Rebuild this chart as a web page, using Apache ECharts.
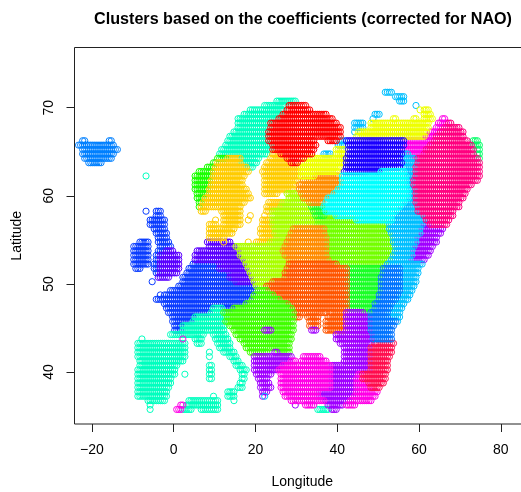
<!DOCTYPE html>
<html><head><meta charset="utf-8">
<style>html,body{margin:0;padding:0;background:#fff}#c{width:521px;height:492px}</style>
<script src="https://cdn.jsdelivr.net/npm/echarts@6/dist/echarts.min.js"></script>
</head><body><div id="c"></div>
<script>
// Each row: [latitude, first longitude, last longitude] of a run of grid cells (0.5 degree grid)
const xTicks = [-20, 0, 20, 40, 60, 80];
const yTicks = [40, 50, 60, 70];
const iceland = [[66.25,-22.5,-22],[66.25,-16,-15.5],[65.75,-23.25,-14.75],[65.25,-22.5,-14],[64.75,-22.3,-14.7],[64.25,-21.6,-15.2],[63.75,-20.7,-17.7]];
const blueWest = [[58.25,-6.75,-6.75],[58.25,-4.5,-3.25],[57.75,-4.5,-3.5],[57.25,-5.7,-2.2],[56.75,-5.7,-2.2],[56.25,-4.8,-2.5],[55.75,-4.4,-2],[55.25,-3.9,-1.7],[54.75,-3.7,-1.3],[54.75,-8.2,-6.2],[54.25,-3.5,-0.9],[54.25,-9.8,-6.2],[53.75,-3.7,-1],[53.75,-9.8,-6.2],[53.25,-4.3,-3.1],[53.25,-9.8,-6.2],[52.75,-9.8,-6.2],[52.75,-4.5,-3.75],[52.25,-9.6,-6.2],[52.25,-4.8,-4],[51.75,-9.3,-8.2],[51.75,-4.8,-4],[51.25,-4.5,-4],
[52.25,4.85,11.4],[51.75,3.6,11.4],[51.25,3.2,13.8],[50.75,2.4,13.8],[50.25,2,15.4],[50.25,-5.3,-5.3],[49.75,1.2,20.3],[49.25,-0.85,20.3],[48.75,-2.5,19.9],[48.75,-3.3,-3.3],[48.25,-4.5,19.1],[47.75,-2.5,17.9],[47.25,-1.7,14.6],[46.75,-1.3,10.5],[46.25,-0.5,4.9],[45.75,-0.5,4.9],[45.25,0,2],[44.75,0,1.6]];
const violetNorth = [[53.75,-1.9,-0.3],[53.25,-3.3,1.2],[52.75,-3.3,1.2],[52.25,-3.3,1.2],[51.75,-3.3,1.2],[51.25,-3.5,0.8],[50.75,-4,-1.3],
[54.75,8.1,13.8],[54.25,8.5,15.45],[53.75,5.67,16.3],[53.25,5.3,16.3],[52.75,5,17],[52.25,11.4,17.9],[51.75,11.4,18.3],[51.25,13.8,18.7],[50.75,13.8,19.1],[50.25,15.4,19.5]];
const aqua = [[70.75,25.2,29.5],[70.25,22.4,27],[69.75,18.7,26.5],[69.25,17.1,26.5],[68.75,15.5,25.6],[68.25,15.5,23.6],[67.75,15.5,23.6],[67.25,14.6,23.4],[66.75,13.8,23.2],[66.25,13.4,23.2],[65.75,12.6,24.4],[65.25,11.8,24.4],[64.75,11.4,22.8],[64.25,13,20.7],[63.75,16.3,20.3],[63.25,17.9,19.1],[62.25,-6.75,-6.75],
[47.25,9.75,11.8],[46.75,9.3,12.2],[46.25,5.3,13],[45.75,4.85,12.2],[45.25,2.4,12.2],[44.75,2,12.2],[44.25,-0.85,7.3],[44.25,9.75,12.6],[43.75,-7.8,-7.8],[43.75,5.3,6.9],[43.75,10.2,13.4],[43.25,5.67,6.5],[43.25,-8.6,2.8],[43.25,10.6,13.8],[42.75,-8.6,2.8],[42.75,11.4,13.8],[42.25,-8.6,2.8],[42.25,12.2,14.6],[42.25,8.9,8.9],[41.75,-8.6,2.8],[41.75,8.9,8.9],[41.75,13.8,15.45],[41.25,-8.2,2],[41.25,14.6,15.9],[40.75,-8.2,0.8],[40.75,15.45,16.7],[40.75,8.9,9.3],[40.25,-8.6,0.4],[40.25,16.3,17.5],[40.25,8.9,9.3],[39.75,-8.6,0],[39.75,16.7,17.1],[39.75,2.8,2.8],[39.75,8.9,9.3],[39.25,-9,-0.8],[39.25,16.7,17.1],[39.25,8.9,9.3],[38.75,-9,-0.8],[38.75,16.3,16.7],[38.25,-8.6,-1.2],[38.25,15.9,16.5],[37.75,-8.6,-1.6],[37.75,13,14.6],[37.25,-8.6,-2],[37.25,13.4,14.6],[37.25,9.75,9.75],[36.75,-6.2,-2.5],[36.75,14.6,14.6],[36.75,3.6,10.6],[36.25,-5.7,-5.7],[36.25,3.2,10.6],[35.75,-5.7,-5.7],[35.75,2.4,4.4],[35.75,6.5,10.6],[35.75,35.4,37.5]];
const norwayGreen = [[64.25,10.6,13],[63.75,9.7,11.8],[63.25,8.1,10.2],[62.75,6,9.7],[62.25,5.3,9.7],[61.75,5.3,9.3],[61.25,5.3,9.3],[60.75,5.3,8.9],[60.25,5.7,8.9],[59.75,5.7,7.7],[59.25,6.1,7.3],[58.75,6.1,6.1]];
const amber = [[64.25,13,16.3],[63.75,10.6,16.3],[63.25,10.2,17.9],[62.75,9.7,18.3],[62.25,9.7,17.1],[61.75,9.3,16.7],[61.25,9.3,16.7],[60.75,8.9,17.5],[60.25,8.9,18.3],[59.75,7.7,18.7],[59.25,7.3,17.1],[58.75,6.9,16.3],[58.25,6.9,7.7],[58.25,11.8,16.3],[57.75,12.2,16.3],[57.75,18.7,18.7],[57.25,10.2,10.2],[57.25,12.2,16.3],[57.25,18.3,18.3],[56.75,8.9,10.2],[56.75,12.2,16.3],[56.25,8.5,14.6],[55.75,8.5,14.2],[55.25,8.9,12.2],[54.75,12,12.2],
[64.75,24.4,26],[64.25,23.6,27.7],[63.75,22.8,28.5],[63.25,22,30.9],[62.75,21.6,30.9],[62.25,22,31.3],[61.75,22,30],[61.25,22,29.5],[60.75,22,29.3],[60.25,22.4,25.2],[59.25,23.2,26.9],[58.75,22.8,26.9],[58.25,22.8,24.4],[57.75,22.4,22.4],[57.25,21.6,24.4],[56.75,21.6,24.4],[56.25,21.2,24.8],[55.75,21.2,24.8],[55.25,21.6,24.8],[54.75,18.3,18.3],[54.75,20.3,23.6]];
const yellowGreen = [[60.25,27.7,31],[59.75,28.1,33.4],[59.25,26.9,33],[58.75,26.2,33.8],[58.25,24.4,34.2],[57.75,24,34.6],[57.25,24.4,35.4],[56.75,24.4,35.4],[56.25,24.8,28.5],[55.75,24.8,28],[55.25,25.2,28],[54.75,23.6,27.7],[54.25,15.45,27.3],[53.75,16.3,27],[53.25,16.3,27],[52.75,17,28],[52.25,17.9,28],[51.75,18.3,27.7],[51.25,18.7,27.7],[50.75,19.1,26.5],[50.25,19.5,24],[49.75,20.3,22]];
const lime = [[57.75,34.6,39.9],[57.25,35.4,44.8],[56.75,35.4,52.1],[56.25,36.6,52.9],[55.75,36.6,53.3],[55.25,37.4,53.75],[54.75,37.4,53.75],[54.25,37,54.2],[53.75,37,54.2],[53.25,37,53.75],[52.75,37.9,53.3],[52.25,39.9,52.1],[51.75,40.3,42.3]];
const green2 = [[58.75,33.8,36.6],[58.25,34.2,36.6],[57.75,34.6,36.9],[51.75,42.3,51.3],[51.25,42.3,51.3],[50.75,42.3,50.9],[50.25,42.3,50.9],[49.75,42.3,50.9],[49.25,42.3,50.9],[48.75,42.3,50],[48.25,42.3,50],[47.75,42.3,48.9],[47.25,42.3,48.9],[46.75,46,48.4]];
const orange = [[62.25,34.2,40.3],[61.75,31.7,40.7],[61.25,30.5,40.7],[60.75,30.5,40.3],[60.25,31,39],[59.75,31.7,37.9],[59.25,33,36.2],[56.25,29.3,36.6],[55.75,28.9,36.6],[55.25,28,37.4],[54.75,27.7,37.4],[54.25,27.3,37],[53.75,26.9,37],[53.25,27.3,37],[52.75,28,37.9]];
const orangeRed = [[52.25,28,39.9],[51.75,27.7,42.3],[51.25,27.3,42.3],[50.75,27.3,42.3],[50.25,24.4,42.3],[49.75,22.8,42.3],[49.25,23.2,42.3],[48.75,24.4,42.3],[48.25,25.6,42.3],[47.75,27.7,42.3],[47.25,28.5,42.3],[46.75,29,37.4],[46.75,38.3,42],[46.25,29.7,30.5],[46.25,32.6,35.4],[46.25,37.9,42],[45.75,33,35.4],[45.75,37.4,42],[45.25,33.4,35],[45.25,37.4,41.5],[44.75,37.4,41.5]];
const alpineGreen = [[49.25,20.7,22.8],[48.75,19.9,24.4],[48.25,19.1,25.6],[47.75,17.9,27.7],[47.25,14.6,28.5],[46.75,12.2,29],[46.25,13,29.3],[45.75,12.6,29.3],[45.25,13.8,29.3],[44.75,14.6,29],[44.25,15,28.8],[43.75,16.3,28.6],[43.25,17,28.4],[42.75,17.9,28],[42.25,18.7,22.8],[42.25,25.2,28]];
const violetSouth = [[44.75,22.4,23.6],[44.75,33.8,34.8],[42.25,24.8,25.2],[41.75,19.9,28.5],[41.25,19.5,28.5],[40.75,19.5,27],[40.25,19.9,25.2],[39.75,20.3,23.6],[39.25,20.7,22.8],[38.75,21.2,23.2],[38.25,21.2,23.6],[37.75,21.5,22.5],[37.25,21.9,22.4],
[46.75,42.3,46],[46.25,42.3,48.4],[45.75,42.3,48.4],[45.25,42.3,48.4],[44.75,42,48.4],[44.25,39.5,48.4],[43.75,39.9,48.4],[43.25,40.7,48.4],[42.75,41.5,48.4],[42.25,41.5,48.4],[41.75,41.5,48.4],[41.25,41.5,48],[40.75,38.3,48],[40.25,38.3,48],[39.75,38.3,46.4],[39.25,38.3,45.2],[38.75,38.3,44.8],[38.25,38.3,44.8],[37.75,35,44.8],[37.25,35,44],[36.75,36.6,43],[36.25,37.5,41],[36.25,29.7,29.7],[35.75,38.7,39.9]];
const magenta = [[41.75,31.75,35.8],[41.25,28.5,29.7],[41.25,31,37],[40.75,26.9,38.3],[40.25,25.5,38.3],[39.75,26,38.3],[39.25,26,38.3],[38.75,26,38.3],[38.25,26.4,38],[37.75,26.8,35],[37.25,27.3,35],[36.75,28.5,36.6],[36.25,32,34.2],[39.75,45,46.4],[39.25,44.8,47],[38.75,44.8,48.4],[38.25,44.8,49.7],[37.75,44.8,49.7],[37.25,44,49.2],[36.75,43,48.4],[36.25,42.3,44.3],[43.75,2.4,2.4],[36.25,1.6,2.4],[35.75,0.8,1.7],[68.75,65.6,66.4],[68.25,64.7,66.8],[67.75,64.3,66],[67.25,62.7,65.2],[66.75,61,64.3],[66.25,56.6,63.5],[65.75,56.6,62.7],[65.25,56.2,61.9],[64.75,57.4,61],[64.25,58.6,59.9]];
const pinkRed = [[43.25,49.3,53.75],[42.75,48.4,53.3],[42.25,48,53],[41.75,48,52.5],[41.25,48,52.1],[40.75,48,52.1],[40.25,48,52.1],[39.75,46.4,51.7],[39.25,46.4,51.7],[38.75,47.6,51.3],[38.25,48,50]];
const blueColumn = [[51.75,51.3,55.4],[51.25,51.3,55.4],[50.75,50.9,55.4],[50.25,50.9,55.4],[49.75,50.9,55.4],[49.25,50.9,55],[48.75,50,54.6],[48.25,50,54.2],[47.75,49.3,53],[47.25,49.3,52.5],[46.75,48.4,52.1],[46.25,48.4,52.1],[45.75,48.4,54],[45.25,48.4,53.7],[44.75,48.4,53.3],[44.25,48.9,53.3],[43.75,48.9,53.3]];
const sky = [[57.75,53.3,61],[57.25,53,61.9],[56.75,52.5,60.7],[56.25,52.9,60.3],[55.75,53.3,60.3],[55.25,53.75,59.4],[54.75,53.75,59],[54.25,54.2,58.6],[53.75,54.2,58.2],[53.25,53.75,58.2],[52.75,53.3,57.8],[52.25,52.1,60.7],[51.75,55.4,59.9],[51.25,55.4,59.9],[50.75,55.4,59.4],[50.25,55.4,59],[49.75,55.4,58.6],[49.25,55,58.2],[48.75,54.6,57.8],[48.25,54.2,57],[47.75,53,56.2],[47.25,52.5,55.8],[46.75,52.1,55.4],[46.25,52.1,55],[45.75,54,54.7],
[66.25,40.7,43.6],[65.75,40.3,41.6],[64.75,36.6,38.3],[64.75,55.7,57.4],[64.25,55.7,58.6],[63.75,55.7,59.4],[63.25,56.2,59.4],[62.75,56.2,59.4],[62.25,56.6,59],[61.75,56.6,58.6],[61.25,56.6,58.6],[60.75,57,58.6],[60.25,57,59],[59.75,57,59.4],[59.25,56.2,59.4],[58.75,55.4,59.9],[58.25,54.2,59.9],[71.75,51.7,53.4],[71.25,54.2,56.2],[70.75,55.4,56.2],[70.25,59.2,59.2],[69.25,49,50.1],[68.75,48.9,48.9],[68.25,44.4,46],[67.75,44.4,46],[67.25,44.4,44.4],[37.25,22.4,22.4]];
const yellow = [[69.75,60.3,60.3],[69.75,61,62.3],[69.25,61,62.7],[68.75,53.75,54],[68.75,58.6,59],[68.75,61,63],[68.25,48,62],[67.75,48,62.3],[67.25,45.2,61.9],[66.75,44.8,61.4],[65.25,39.9,41.5],[64.75,39.5,41.5],[64.25,32.2,41.5],[63.75,31,41.5],[63.25,31,40.7],[62.75,31,40.3],[62.25,31.3,34.2]];
const darkBlue = [[66.25,42.3,56.2],[65.75,42.7,56.2],[65.25,42.7,55.8],[64.75,42.7,55.8],[64.25,42.3,55.4],[63.75,42.3,55.8],[63.25,42,55.4],[62.75,41.5,50.5]];
const cyan = [[62.75,50.5,56.2],[62.25,41.1,56.6],[61.75,41.1,56.6],[61.25,41.1,56.6],[60.75,40.3,57],[60.25,39,57],[59.75,37.9,57],[59.25,37,56.2],[58.75,36.6,55.4],[58.25,37,54.2],[57.75,39.9,53.3],[57.25,44.8,53]];
const spring = [[66.25,73.3,74.1],[65.75,73.3,74.5],[65.25,74,74.5],[64.75,74,74.75],[64.25,74.5,74.75]];
const pink = [[68.25,67.2,67.6],[67.75,66,69.6],[67.25,65.2,70.5],[66.75,64.3,70.9],[66.25,63.5,71.7],[65.75,62.7,72.5],[65.25,61.9,73.3],[64.75,61,73.3],[64.25,59.9,74.1],[63.75,59.9,74.5],[63.25,59.4,74.5],[62.75,59.4,74.5],[62.25,59,74.5],[61.75,58.6,74.1],[61.25,58.6,72.5],[60.75,59,71.7],[60.25,59,71.3],[59.75,59.4,70.5],[59.25,59.4,69.6],[58.75,59.9,69.6],[58.25,59.9,68.4],[57.75,61,68],[57.25,61.9,67.2],[56.75,62.7,66.8]];
const violetEast = [[56.75,60.7,62.7],[56.25,60.3,65.6],[55.75,60.3,65.2],[55.25,59.4,64.3],[54.75,59,64],[54.25,58.6,63.1],[53.75,58.2,62.7],[53.25,58.2,62.3],[52.75,57.8,61]];
const red = [[70.25,28,32.2],[69.75,27.7,33.4],[69.25,26.9,37],[68.75,25.6,38.7],[68.25,23.6,39.9],[67.75,23.6,40.7],[67.25,23.4,40.7],[66.75,23.2,40.7],[66.25,23.2,34.2],[66.25,37.9,39.5],[65.75,24.4,34.6],[65.25,24.4,34.2],[64.75,26,33.8],[64.25,27.7,31.7],[63.75,28.5,30.3]];

const clusters = [
 [iceland,'#0080ff'],[blueWest,'#0a3cff'],[violetNorth,'#5a00ff'],[aqua,'#00ffbf'],[norwayGreen,'#1aff00'],
 [amber,'#ffcc00'],[yellowGreen,'#aaff00'],[lime,'#73ff00'],[green2,'#1aff26'],[orange,'#ff8c00'],[orangeRed,'#ff5500'],
 [alpineGreen,'#40ff00'],[violetEast,'#a000ff'],[violetSouth,'#a000ff'],[magenta,'#ff00e6'],[pinkRed,'#ff0d4d'],[sky,'#00bfff'],
 [blueColumn,'#0073ff'],[yellow,'#eeff00'],[darkBlue,'#1a00ff'],[cyan,'#00ffff'],[spring,'#00ff66'],[pink,'#ff0080'],[red,'#ff0000']
];
const snap = v => Math.round((v - 0.25) * 2) / 2 + 0.25;
const cell = new Map();
clusters.forEach(([rows], i) => rows.forEach(([lat, a, b]) => {
  for (let g = snap(a); g <= snap(b); g += 0.5) cell.set(g + '|' + lat, i);
}));
const pts = clusters.map(() => []);
cell.forEach((i, k) => { const p = k.split('|').map(Number); pts[i].push(p); });

const font = 'Liberation Sans';
const chart = echarts.init(document.getElementById('c'), null, {renderer: 'canvas'});
chart.setOption({
  animation: false, backgroundColor: '#fff',
  title: {text: 'Clusters based on the coefficients (corrected for NAO)', left: 298, top: 7, textAlign: 'center',
    textStyle: {fontFamily: font, fontSize: 16.15, fontWeight: 'bold', color: '#000'}},
  grid: {left: 74.5, top: 47.5, width: 448.5, height: 376.5, show: true, borderColor: '#222', borderWidth: 1, backgroundColor: 'transparent', outerBoundsMode: 'none', containLabel: false},
  xAxis: {type: 'value', min: -24.24, max: 85.42, name: 'Longitude', nameLocation: 'middle', nameGap: 51.5,
    nameTextStyle: {fontFamily: font, fontSize: 14, color: '#000', padding: [0, 0, 0, 7]},
    splitLine: {show: false}, axisLine: {show: false, onZero: false},
    axisTick: {show: true, length: 8, customValues: xTicks, lineStyle: {color: '#222'}},
    axisLabel: {fontFamily: font, fontSize: 14, color: '#000', margin: 19, customValues: xTicks,
      formatter: v => String(v).replace('-', '\u2212'), showMinLabel: true, showMaxLabel: true}},
  yAxis: {type: 'value', min: 34.1, max: 76.83, name: 'Latitude', nameLocation: 'middle', nameGap: 50.5, nameRotate: 90,
    nameTextStyle: {fontFamily: font, fontSize: 14, color: '#000'},
    splitLine: {show: false}, axisLine: {show: false, onZero: false},
    axisTick: {show: true, length: 8, customValues: yTicks, lineStyle: {color: '#222'}},
    axisLabel: {fontFamily: font, fontSize: 14, color: '#000', rotate: 90, margin: 18.5, customValues: yTicks}},
  series: clusters.map(([, c], i) => ({type: 'scatter', data: pts[i], symbol: 'circle', symbolSize: 6.2, silent: true, large: false,
    clip: false, progressive: 0, itemStyle: {color: 'transparent', borderColor: c, borderWidth: 1, opacity: 1}}))
});
</script></body></html>
